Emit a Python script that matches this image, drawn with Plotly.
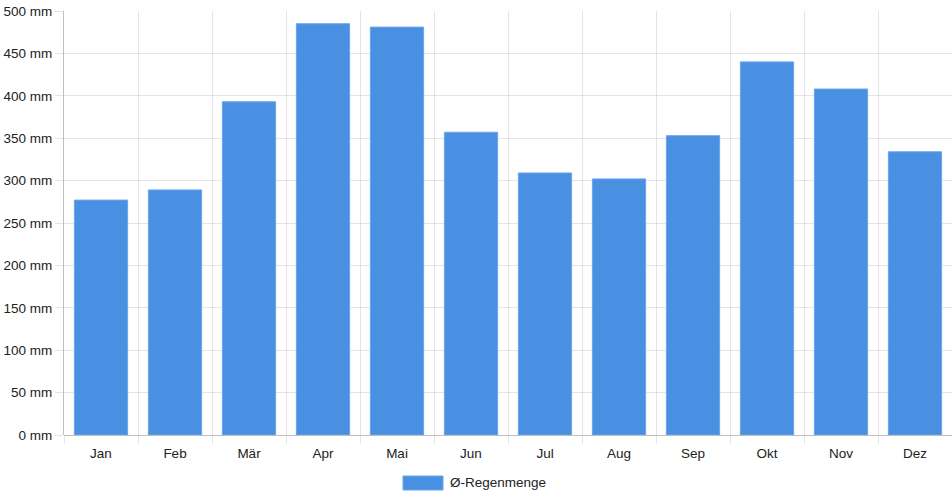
import plotly.graph_objects as go

months = ["Jan", "Feb", "Mär", "Apr", "Mai", "Jun", "Jul", "Aug", "Sep", "Okt", "Nov", "Dez"]
rain_mm = [277, 289, 393, 485, 481, 357, 309, 302, 353, 440, 408, 334]
series_name = "Ø-Regenmenge"

bar_color = "#4a90e2"
grid_color = "rgba(0,0,0,0.1)"
font_color = "#222222"
fsize = 13.5

fig = go.Figure()
fig.add_trace(go.Bar(
    x=months, y=rain_mm, name=series_name,
    marker=dict(color=bar_color, line=dict(color="#6aa6ea", width=1)),
    showlegend=False,
))

W, H = 952, 500
ml, mr, mt, mb = 64, 0, 11, 65
pw, ph = W - ml - mr, H - mt - mb

def px_x(p):
    return (p - ml) / pw

def px_y(p):
    return (H - mb - p) / ph

# legend box (custom, Chart.js style)
fig.add_shape(type="rect", xref="paper", yref="paper",
              x0=px_x(403), x1=px_x(443), y0=px_y(490), y1=px_y(476),
              fillcolor=bar_color, line=dict(color="#6aa6ea", width=1))
fig.add_annotation(xref="paper", yref="paper", x=px_x(448), y=px_y(482.5),
                   text=series_name, showarrow=False, xanchor="left", yanchor="middle",
                   font=dict(size=fsize, color=font_color))

fig.update_layout(
    width=W, height=H,
    margin=dict(l=ml, r=mr, t=mt, b=mb),
    paper_bgcolor="white", plot_bgcolor="white",
    font=dict(family="Liberation Sans, Arial, Helvetica, sans-serif", size=fsize, color=font_color),
    bargap=0.28,
    xaxis=dict(
        type="category", tickson="boundaries",
        showgrid=True, gridcolor=grid_color, gridwidth=1,
        ticks="outside", ticklen=8, tickcolor=grid_color,
        showline=False, zeroline=False,
        ticklabelstandoff=8,
        tickfont=dict(size=fsize, color=font_color),
    ),
    yaxis=dict(
        range=[0, 500], dtick=50, tick0=0, ticksuffix=" mm",
        showgrid=True, gridcolor=grid_color, gridwidth=1,
        ticks="outside", ticklen=8, tickcolor=grid_color,
        showline=True, linecolor="rgba(0,0,0,0.25)", linewidth=1,
        zeroline=True, zerolinecolor="rgba(0,0,0,0.25)", zerolinewidth=1,
        tickfont=dict(size=fsize, color=font_color),
    ),
)

fig.write_html("out.html", config={"displayModeBar": False},
               post_script="document.body.style.margin='0';document.body.style.overflow='hidden';")
